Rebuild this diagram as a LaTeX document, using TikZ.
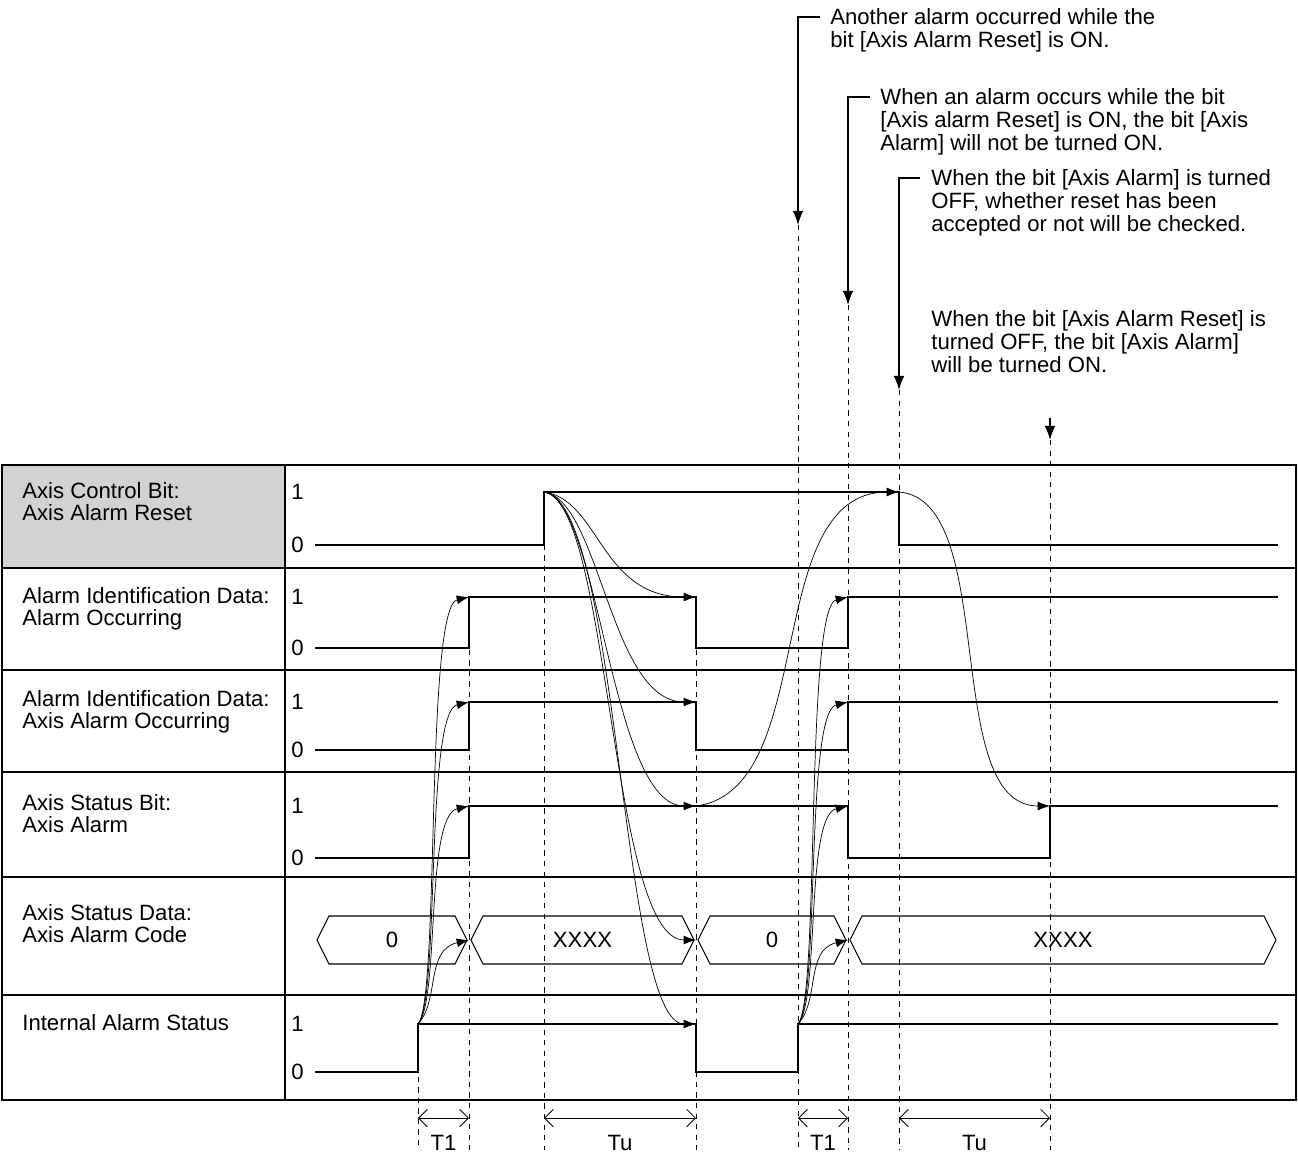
\documentclass[tikz,border=0pt]{standalone}
\usepackage{fontspec}
\setmainfont{Liberation Sans}
\usetikzlibrary{arrows.meta}
\begin{document}
\begin{tikzpicture}[x=0.02cm,y=-0.02cm,
  sig/.style={line width=1.1pt},
  dsh/.style={dashed,line width=0.4pt},
  cause/.style={line width=0.4pt,-{Latex[length=7pt,width=5pt]}},
  call/.style={line width=0.7pt,-{Latex[length=8pt,width=6pt]}},
  lab/.style={anchor=north west,align=left,font=\fontsize{12.6}{12.6}\selectfont,inner sep=0pt},
  ann/.style={anchor=north west,align=left,font=\fontsize{12.6}{13}\selectfont,inner sep=0pt},
  lvl/.style={anchor=west,font=\fontsize{12.6}{13}\selectfont,inner sep=0pt}]
\useasboundingbox (0,0) rectangle (1298,1156);
% table
\fill[gray!35] (2,465) rectangle (285,568);
\draw[line width=0.6pt] (2,465) rectangle (1296,1100);
\foreach \y in {568,670,772,877,995} \draw[line width=0.6pt] (2,\y) -- (1296,\y);
\draw[line width=0.6pt] (285,465) -- (285,1100);
% row labels
\node[lab] (l1) at (22,482) {Axis Control Bit:\\Axis Alarm Reset};
\node[lab] (l2) at (22,587) {Alarm Identification Data:\\Alarm Occurring};
\node[lab] (l3) at (22,690) {Alarm Identification Data:\\Axis Alarm Occurring};
\node[lab] (l4) at (22,794) {Axis Status Bit:\\Axis Alarm};
\node[lab] (l5) at (22,904) {Axis Status Data:\\Axis Alarm Code};
\node[lab] (l6) at (22,1014) {Internal Alarm Status};
\foreach \a/\b in {492/545,597/648,702/750,806/858,1024/1072}{
  \node[lvl] at (291,\a) {1};
  \node[lvl] at (291,\b) {0};}
% dashed lines
\foreach \x/\y in {418/1024,469/597,544/492,696/597,798/225,848/305,899/390,1050/440}
  \draw[dsh] (\x,\y) -- (\x,1150);
% signals
\draw[sig] (315,545) -- (544,545) -- (544,492) -- (899,492) -- (899,545) -- (1278,545);
\draw[sig] (315,648) -- (469,648) -- (469,597) -- (696,597) -- (696,648) -- (848,648) -- (848,597) -- (1278,597);
\draw[sig] (315,750) -- (469,750) -- (469,702) -- (696,702) -- (696,750) -- (848,750) -- (848,702) -- (1278,702);
\draw[sig] (315,858) -- (469,858) -- (469,806) -- (848,806) -- (848,858) -- (1050,858) -- (1050,806) -- (1278,806);
\draw[sig] (315,1072) -- (418,1072) -- (418,1024) -- (696,1024) -- (696,1072) -- (798,1072) -- (798,1024) -- (1278,1024);
% bus
\foreach \a/\b/\t in {315/469/0,469/696/XXXX,696/848/0,848/1278/XXXX}{
  \draw[line width=0.6pt] (\a+2,940) -- (\a+14,916) -- (\b-14,916) -- (\b-2,940) -- (\b-14,964) -- (\a+14,964) -- cycle;
  \node[font=\fontsize{12.6}{13}\selectfont] at ({(\a+\b)/2},940) {\t};}
% causal curves
\foreach \y in {597,702,806,940}
  \draw[cause] (418,1024) .. controls (440,1000) and (425,\y+10) .. (469,\y);
\foreach \y in {597,702,806,940}
  \draw[cause] (798,1024) .. controls (820,1000) and (805,\y+10) .. (848,\y);
\draw[cause] (544,492) .. controls (600,500) and (600,597) .. (696,597);
\draw[cause] (544,492) .. controls (600,500) and (610,702) .. (696,702);
\draw[cause] (544,492) .. controls (600,500) and (610,806) .. (696,806);
\draw[cause] (544,492) .. controls (610,500) and (610,940) .. (696,940);
\draw[cause] (544,492) .. controls (620,500) and (620,1024) .. (696,1024);
\draw[cause] (696,806) .. controls (820,790) and (760,492) .. (899,492);
\draw[cause] (899,492) .. controls (1000,500) and (940,806) .. (1050,806);
% annotation arrows
\coordinate (a1) at (820,17); \coordinate (a2) at (870,97); \coordinate (a3) at (920,178);
\draw[call] (a1) -- (798,17) -- (798,225);
\draw[call] (a2) -- (848,97) -- (848,305);
\draw[call] (a3) -- (899,178) -- (899,390);
\draw[call] (1050,418) -- (1050,440);
\node[ann] (t1) at (830,8) {Another alarm occurred while the\\bit [Axis Alarm Reset] is ON.};
\node[ann] (t2) at (880,88) {When an alarm occurs while the bit\\{[Axis alarm Reset]} is ON, the bit [Axis\\Alarm] will not be turned ON.};
\node[ann] (t3) at (931,169) {When the bit [Axis Alarm] is turned\\OFF, whether reset has been\\accepted or not will be checked.};
\node[ann] (t4) at (931,310) {When the bit [Axis Alarm Reset] is\\turned OFF, the bit [Axis Alarm]\\will be turned ON.};
% dimension arrows
\foreach \a/\b/\t in {418/469/T1,544/696/Tu,798/848/T1,899/1050/Tu}{
  \draw[line width=0.5pt,{Straight Barb[length=5pt]}-{Straight Barb[length=5pt]}] (\a,1118) -- (\b,1118);
  \node[font=\fontsize{12.6}{13}\selectfont,fill=white,inner sep=1pt] at ({(\a+\b)/2},1143) {\t};}
\end{tikzpicture}
\end{document}
